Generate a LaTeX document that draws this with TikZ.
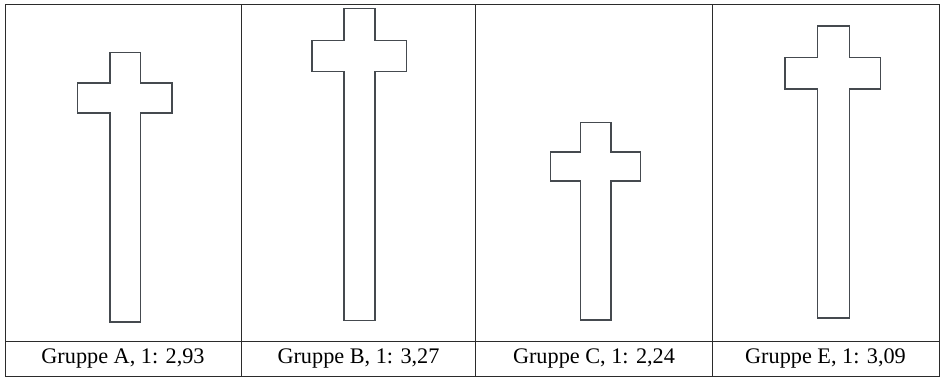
\documentclass[tikz,border=0pt]{standalone}
\usepackage{fontspec}
\setmainfont{Liberation Serif}
\usepackage{xcolor}
\usepackage{tikz}
\definecolor{rim}{HTML}{2B2B2B}
\definecolor{ink}{HTML}{454A4F}
% stem left, stem right, top, arm top, arm bottom, arm left, arm right, bottom
\newcommand{\crossoutline}[8]{%
  \draw[crossline] (#1,#3) -- (#2,#3) -- (#2,#4) -- (#7,#4) -- (#7,#5) -- (#2,#5)
    -- (#2,#8) -- (#1,#8) -- (#1,#5) -- (#6,#5) -- (#6,#4) -- (#1,#4) -- cycle;}

\begin{document}
\begin{tikzpicture}[x=0.03cm,y=-0.03cm,
		tableline/.style={draw=rim,line width=0.6pt},
		crossline/.style={draw=ink,line width=1.5pt,line join=miter},
		caption/.style={font=\fontsize{19}{22}\selectfont,inner sep=0pt}]
		\useasboundingbox (0,0) rectangle (941,377);
		%
		\draw[tableline] (5,4.5) rectangle (939,376);
		\draw[tableline] (5,341) -- (939,341);
		\draw[tableline] (241.5,4.5) -- (241.5,376)
		(475.5,4.5) -- (475.5,376)
		(712,4.5) -- (712,376);
		%
		\crossoutline{110}{140.5}{52.5}{83}{113}{77.5}{172}{322}
		\crossoutline{344}{375}{8.5}{40.5}{71.5}{312}{406.5}{320.5}
		\crossoutline{580.5}{611}{122.5}{152}{181}{550.5}{640.5}{320}
		\crossoutline{817.5}{849.5}{26}{57.5}{89}{785}{880.5}{318}
		%
		\node[caption] (capA) at (123,358.5) {Gruppe A, 1: 2,93};
		\node[caption] (capB) at (358.5,358.5) {Gruppe B, 1: 3,27};
		\node[caption] (capC) at (594,358.5) {Gruppe C, 1: 2,24};
		\node[caption] (capE) at (825.5,358.5) {Gruppe E, 1: 3,09};
	\end{tikzpicture}
\end{document}
